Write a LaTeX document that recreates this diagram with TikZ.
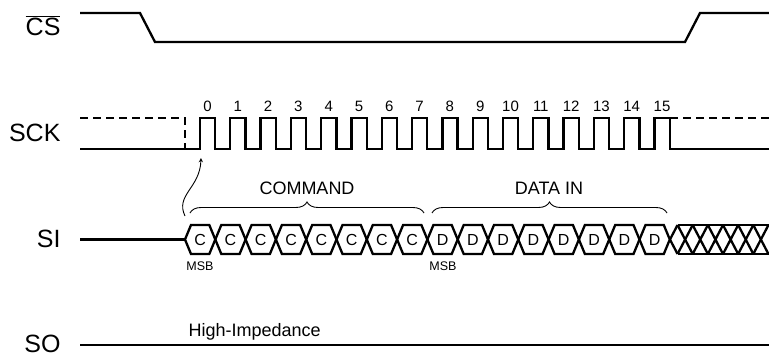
\documentclass[tikz,border=0pt]{standalone}
\usepackage{fontspec}
\setmainfont{Liberation Sans}
\usetikzlibrary{decorations.pathreplacing}

\begin{document}
\begin{tikzpicture}[x=1pt, y=-1pt,
		sig/.style={line width=2.3pt},
		signame/.style={anchor=base east, font=\fontsize{25}{25}\selectfont},
		tick/.style={anchor=base, font=\fontsize{15}{15}\selectfont},
		bit/.style={anchor=base, font=\fontsize{16}{16}\selectfont},
		msb/.style={anchor=base, font=\fontsize{12.5}{12.5}\selectfont},
		field/.style={anchor=base, font=\fontsize{18}{18}\selectfont},
		curly/.style={decorate, decoration={brace, amplitude=11pt}, line width=0.9pt}]
	\useasboundingbox (0,0) rectangle (769,356);
	% signal names
	\node[signame] (CS) at (64,35) {$\overline{\mbox{CS}}$};
	\node[signame] (SCK) at (64,141) {SCK};
	\node[signame] (SI) at (64,247) {SI};
	\node[signame] (SO) at (64,352) {SO};
	% chip select
	\draw[sig] (80,13) -- (140,13) -- (155,42) -- (685,42) -- (700,13) -- (769,13);
	% clock
	\draw[sig, dash pattern=on 8pt off 5pt] (80,118) -- (185,118) -- (185,149);
	\draw[sig, dash pattern=on 8pt off 5pt] (670,118) -- (769,118);
	\draw[sig] (80,149) -- (200,149) \foreach \k in {0,...,15} { -- ++(0,-31) -- ++(15.15,0) -- ++(0,31) -- ++(15.15,0)} -- (769,149);
	\foreach \k in {0,...,15}
		\node[tick] (t\k) at ({207.5+30.3*\k},111.5) {\k};
	% serial in
	\draw[sig] (80,239.5) -- (185,239.5);
	\foreach \t [count=\k from 0, evaluate=\k as \a using 185+30.3*\k] in {C,C,C,C,C,C,C,C,D,D,D,D,D,D,D,D} {
		\draw[sig] (\a,239.5) -- ++(6,-14.5) -- ++(18.3,0) -- ++(6,14.5) -- ++(-6,14.5) -- ++(-18.3,0) -- cycle;
		\node[bit] (b\k) at ({\a+15.15},245) {\t};
	}
	% don't care
	\begin{scope}
		\clip (670,218) rectangle (769,262);
		\draw[sig] (677.6,225) -- (769,225);
		\draw[sig] (677.6,254) -- (769,254);
		\foreach \k in {0,...,6}
			\draw[sig] ({662.4+15.15*\k},225) -- ++(15.15,29) ++(-15.15,0) -- ++(15.15,-29);
	\end{scope}
	\node[msb] (msbC) at (200,270) {MSB};
	\node[msb] (msbD) at (443,270) {MSB};
	% fields
	\coordinate (cmdL) at (190,213);
	\coordinate (cmdR) at (424,213);
	\coordinate (datL) at (432,213);
	\coordinate (datR) at (667,213);
	\draw[curly] (cmdL) -- (cmdR);
	\draw[curly] (datL) -- (datR);
	\node[field] (cmd) at (307,194) {COMMAND};
	\node[field] (dat) at (549,194) {DATA IN};
	% first bit is latched on edge 0
	\coordinate (first) at (185,216);
	\coordinate (edge0) at (201,158);
	\draw[->, >=stealth, line width=0.9pt] (first) .. controls (175,195) and (200,188) .. (edge0);
	% serial out
	\draw[sig] (80,345) -- (769,345);
	\node[anchor=base west, font=\fontsize{18}{18}\selectfont] (hiz) at (185,336) {High-Impedance};
\end{tikzpicture}
\end{document}
